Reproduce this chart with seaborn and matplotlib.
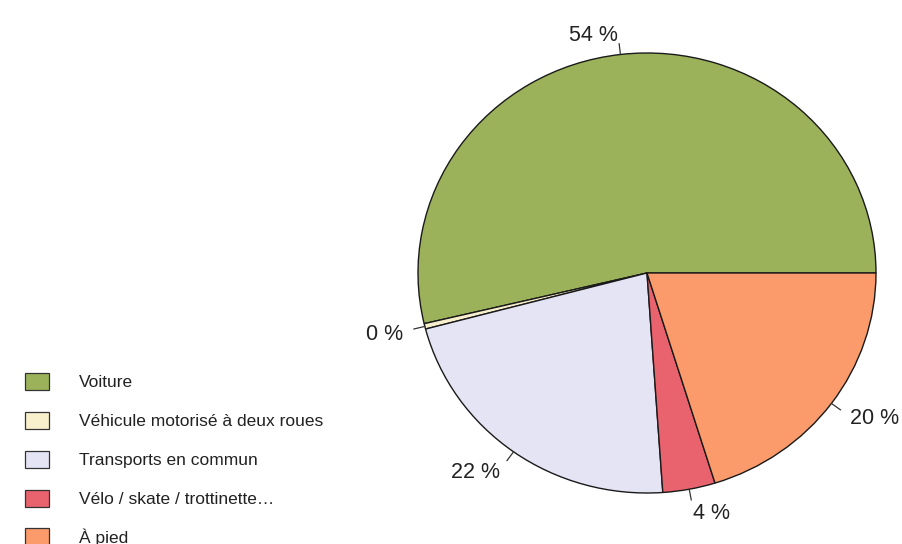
import matplotlib
matplotlib.use("Agg")
import matplotlib.pyplot as plt
from matplotlib.patches import Patch
import seaborn as sns
import numpy as np

sns.set_theme(style="white")
plt.rcParams["font.family"] = ["Liberation Sans", "DejaVu Sans"]

# Mode de déplacement (parts en %)
categories = ["Voiture", "Véhicule motorisé à deux roues", "Transports en commun",
              "Vélo / skate / trottinette…", "À pied"]
shares = [53.7, 0.4, 22.0, 3.7, 20.2]
colors = ["#9bb25a", "#f8f0cc", "#e5e4f5", "#e8636d", "#fb9b6b"]

W, H = 902, 544
fig = plt.figure(figsize=(W / 100, H / 100), dpi=100)
ax = fig.add_axes([0, 0, 1, 1])

# pie centre and radii in pixels (drawn slightly wider than tall)
cx, cy, rx, ry = 647, 273, 229, 220
wedges, _ = ax.pie(shares, colors=colors, startangle=0, counterclock=True,
                   center=(0, 0), radius=1,
                   wedgeprops=dict(edgecolor="#1a1a1a", linewidth=1.0))

# Percentage labels with short tick marks at each slice's mid-angle
for w, v in zip(wedges, shares):
    ang = np.deg2rad((w.theta1 + w.theta2) / 2)
    c, s = np.cos(ang), np.sin(ang)
    ax.plot([c, 1.05 * c], [s, 1.05 * s], color="#333333", lw=0.9)
    ax.text(1.1 * c, 1.1 * s, f"{round(v):d} %",
            ha="right" if c < 0 else "left", va="center_baseline",
            fontsize=15.5, color="#222222")

ax.set_xlim(-cx / rx, (W - cx) / rx)
ax.set_ylim(-(H - cy) / ry, cy / ry)
ax.set_aspect("auto")
ax.axis("off")

handles = [Patch(facecolor=col, edgecolor="#333333", linewidth=0.9) for col in colors]
leg = ax.legend(handles, categories, loc="upper left",
                bbox_to_anchor=(25 / W, 1 - 373 / H), frameon=False,
                fontsize=12.5, handlelength=1.38, handleheight=1.15,
                handletextpad=1.72, labelspacing=1.23, borderaxespad=0,
                borderpad=0)
for t in leg.get_texts():
    t.set_color("#222222")

fig.savefig("out.png", dpi=100)
